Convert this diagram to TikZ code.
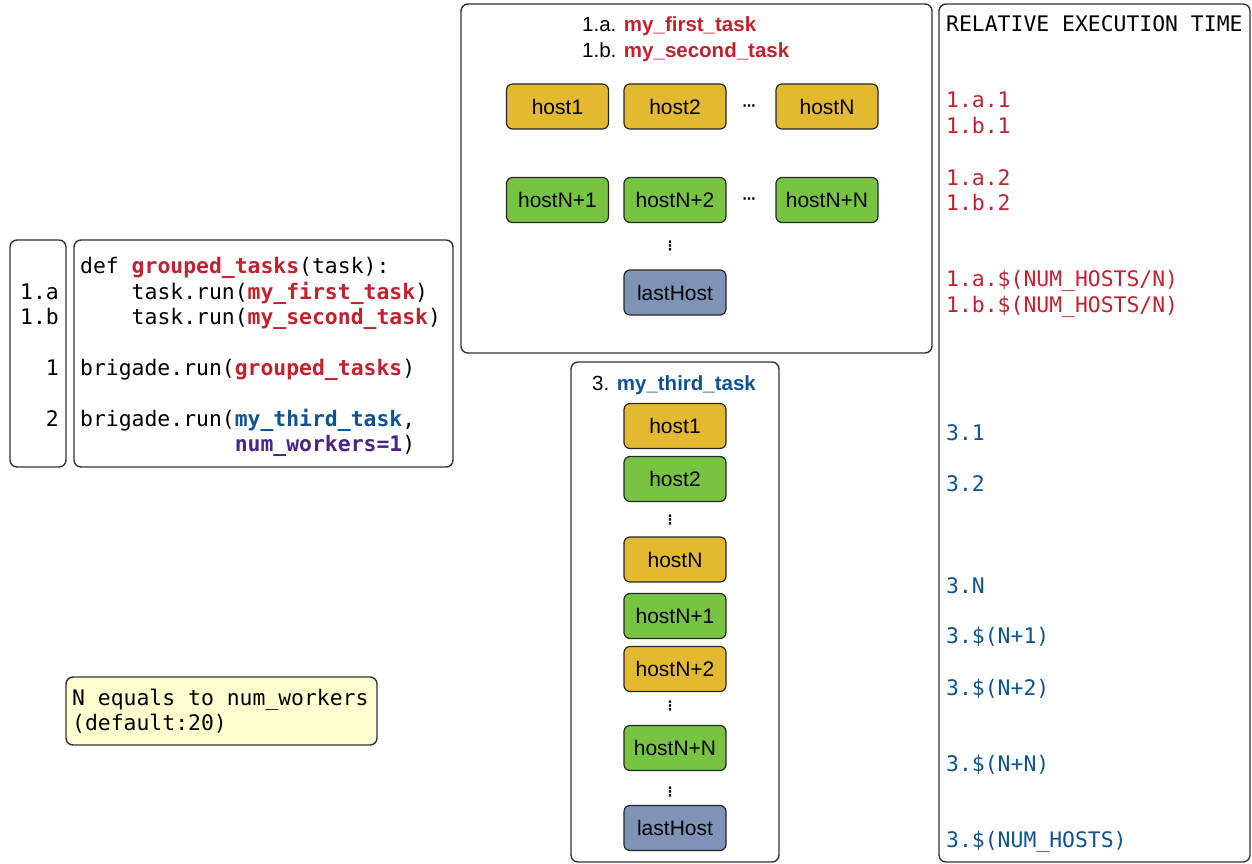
\documentclass[tikz,border=0pt]{standalone}
\usepackage{fontspec}
\setmainfont{Liberation Sans}
\newfontfamily\monof{DejaVu Sans Mono}
\newfontfamily\symf{DejaVu Sans}
\definecolor{tred}{HTML}{C4202E}
\definecolor{tblue}{HTML}{0D5393}
\definecolor{tpurple}{HTML}{4A2484}
\definecolor{hyel}{HTML}{E4B932}
\definecolor{hgrn}{HTML}{77C443}
\definecolor{hlast}{HTML}{7F93B7}
\definecolor{notefill}{HTML}{FFFFD0}
\definecolor{edge}{HTML}{333333}
\begin{document}
\begin{tikzpicture}[x=1pt,y=-1pt,
  outerbox/.style={draw=edge,line width=1.4pt,rounded corners=7pt,inner sep=0pt},
  hostbox/.style={draw=black!85,line width=1.2pt,rounded corners=6pt,minimum width=102pt,minimum height=45pt,inner sep=0pt,font=\fontsize{21}{24}\selectfont},
  hy/.style={hostbox,fill=hyel},
  hg/.style={hostbox,fill=hgrn},
  hl/.style={hostbox,fill=hlast},
  code/.style={anchor=base west,inner sep=0pt,font=\monof\fontsize{21.4}{25}\selectfont},
  lnum/.style={anchor=base east,inner sep=0pt,font=\monof\fontsize{21.4}{25}\selectfont},
  ttl/.style={anchor=base west,inner sep=0pt,font=\fontsize{20.5}{24}\selectfont},
  hdots/.style={inner sep=0pt,font=\symf\bfseries\fontsize{13}{15}\selectfont},
  vdot/.style={inner sep=0pt,font=\symf\bfseries\fontsize{13}{15}\selectfont}
]
\useasboundingbox (0,0) rectangle (1252,864);
% outer boxes
\node[outerbox,minimum width=56pt,minimum height=227pt] (lnbox) at (38,353.5) {};
\node[outerbox,minimum width=379pt,minimum height=227pt] (codebox) at (263.5,353.5) {};
\node[outerbox,minimum width=471pt,minimum height=349pt] (topbox) at (696.5,178.5) {};
\node[outerbox,minimum width=208pt,minimum height=500pt] (thirdbox) at (675,612) {};
\node[outerbox,minimum width=311pt,minimum height=858pt] (timebox) at (1094.5,433) {};
\node[outerbox,fill=notefill,minimum width=311pt,minimum height=68pt] (notebox) at (221.5,711) {};
% line numbers
\node[lnum] (l1a) at (59,299) {1.a};
\node[lnum] (l1b) at (59,324) {1.b};
\node[lnum] (l1) at (59,375) {1};
\node[lnum] (l2) at (59,426) {2};
% code
\node[code] (c1) at (80,273) {def \textcolor{tred}{\bfseries grouped\_tasks}(task):};
\node[code] (c2) at (80,299) {\phantom{def }task.run(\textcolor{tred}{\bfseries my\_first\_task})};
\node[code] (c3) at (80,324) {\phantom{def }task.run(\textcolor{tred}{\bfseries my\_second\_task})};
\node[code] (c4) at (80,375) {brigade.run(\textcolor{tred}{\bfseries grouped\_tasks})};
\node[code] (c5) at (80,426) {brigade.run(\textcolor{tblue}{\bfseries my\_third\_task},};
\node[code] (c6) at (80,451) {\phantom{brigade.run(}\textcolor{tpurple}{\bfseries num\_workers=1})};
% note
\node[code] (n1) at (72,705) {N equals to num\_workers};
\node[code] (n2) at (72,730) {(default:20)};
% top box
\node[ttl] (t1) at (582,32) {1.a. \textcolor{tred}{\bfseries my\_first\_task}};
\node[ttl] (t2) at (582,58) {1.b. \textcolor{tred}{\bfseries my\_second\_task}};
\node[hy] (a1) at (557.5,106.5) {host1};
\node[hy] (a2) at (675,106.5) {host2};
\node[hdots] (ad1) at (749,108) {⋯};
\node[hy] (aN) at (827,106.5) {hostN};
\node[hg] (b1) at (557.5,200) {hostN+1};
\node[hg] (b2) at (675,200) {hostN+2};
\node[hdots] (ad2) at (749,201) {⋯};
\node[hg] (bN) at (827,200) {hostN+N};
\node[vdot] (av) at (670,246) {⋮};
\node[hl] (al) at (675,292.5) {lastHost};
% third box
\node[ttl] (t3) at (592,390) {3. \textcolor{tblue}{\bfseries my\_third\_task}};
\node[hy] (s1) at (675,426) {host1};
\node[hg] (s2) at (675,479) {host2};
\node[vdot] (sv1) at (670,520) {⋮};
\node[hy] (sN) at (675,559.5) {hostN};
\node[hg] (sN1) at (675,616) {hostN+1};
\node[hy] (sN2) at (675,669) {hostN+2};
\node[vdot] (sv2) at (670,706) {⋮};
\node[hg] (sNN) at (675,748) {hostN+N};
\node[vdot] (sv3) at (670,792) {⋮};
\node[hl] (sl) at (675,828) {lastHost};
% relative execution time
\node[code] (h) at (946,32) {RELATIVE EXECUTION TIME};
\begin{scope}[every node/.append style={text=tred}]
\node[code] (r1) at (946,108) {1.a.1};
\node[code] (r2) at (946,134) {1.b.1};
\node[code] (r3) at (946,185) {1.a.2};
\node[code] (r4) at (946,210) {1.b.2};
\node[code] (r5) at (946,286) {1.a.\$(NUM\_HOSTS/N)};
\node[code] (r6) at (946,312) {1.b.\$(NUM\_HOSTS/N)};
\end{scope}
\begin{scope}[every node/.append style={text=tblue}]
\node[code] (q1) at (946,440) {3.1};
\node[code] (q2) at (946,491) {3.2};
\node[code] (q3) at (946,593) {3.N};
\node[code] (q4) at (946,643) {3.\$(N+1)};
\node[code] (q5) at (946,695) {3.\$(N+2)};
\node[code] (q6) at (946,771) {3.\$(N+N)};
\node[code] (q7) at (946,847) {3.\$(NUM\_HOSTS)};
\end{scope}
\end{tikzpicture}
\end{document}
